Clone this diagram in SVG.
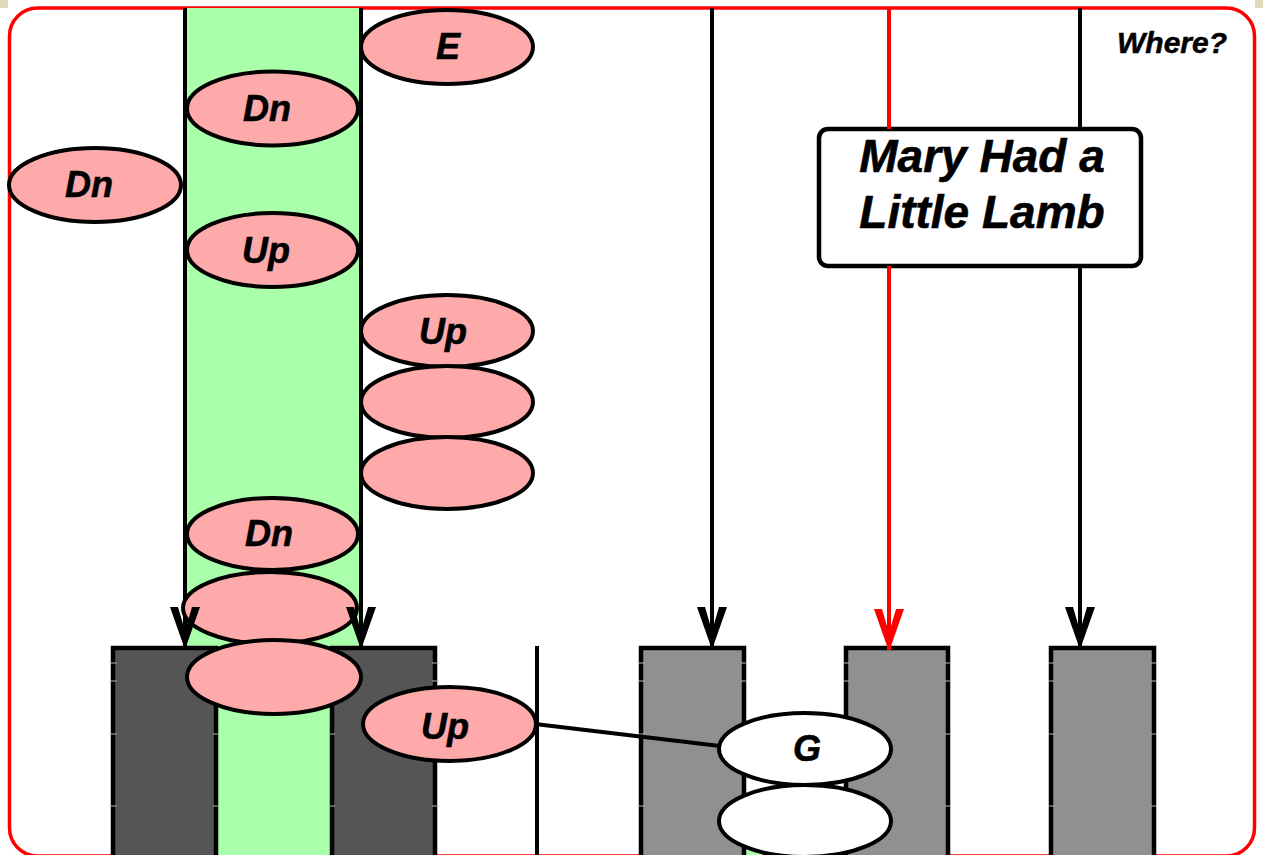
<svg xmlns="http://www.w3.org/2000/svg" width="1263" height="855" viewBox="0 0 1263 855">
<style>
.lbl{font-family:"Liberation Sans",Arial,sans-serif;font-weight:bold;font-style:italic;font-size:36px;fill:#000;stroke:#000;stroke-width:0.6;text-anchor:middle}
.pk{fill:#ffaaaa;stroke:#000;stroke-width:4}
.wh{fill:#fff;stroke:#000;stroke-width:4}
.dk{fill:#555555;stroke:#000;stroke-width:4.5}
.gr{fill:#909090;stroke:#000;stroke-width:4.5}
.ln{stroke:#000;stroke-width:4;fill:none}
.rd{stroke:#ff0000;stroke-width:4;fill:none}
.ah{fill:#000}
.ahr{fill:#ff0000}
.tk{stroke:#b8b8b8;stroke-width:1}
.tg{stroke:#dfffdf;stroke-width:1}
</style>
<rect x="0" y="0" width="1263" height="855" fill="#fff"/>
<rect x="0" y="0" width="8" height="8" fill="#ddd9bb"/>
<rect x="1255" y="0" width="8" height="8" fill="#ddd9bb"/>
<rect id="frame" x="9.5" y="8" width="1245" height="848" rx="28" ry="28" fill="#fff" stroke="#ff0000" stroke-width="3.5"/>

<g id="column">
  <rect x="185" y="8" width="176" height="640" fill="#aaffaa"/>
  <rect x="216" y="648" width="116" height="207" fill="#aaffaa"/>
  <rect x="744" y="842" width="18" height="13" fill="#aaffaa"/>
</g>

<g id="blocks">
  <rect id="dark1" class="dk" x="113" y="648" width="103" height="212"/>
  <rect id="dark2" class="dk" x="332" y="648" width="103" height="212"/>
  <rect id="gray1" class="gr" x="641" y="648" width="103" height="212"/>
  <rect id="gray2" class="gr" x="846" y="648" width="102" height="212"/>
  <rect id="gray3" class="gr" x="1051" y="648" width="103" height="212"/>
  <line class="ln" x1="537" y1="646" x2="537" y2="855"/>
</g>

<g id="ticks">
  <path class="tg" d="M182 131h7M358 131h6M182 273h7M358 273h6M182 326h7M358 326h6M182 344h7M358 344h6M182 397h7M358 397h6M182 468h7M358 468h6"/>
  <path class="tk" d="M110 663h7M213 663h6M329 663h6M432 663h7M638 663h7M741 663h6M843 663h6M945 663h6M1048 663h6M1151 663h6
  M110 681h7M213 681h6M329 681h6M432 681h7M638 681h7M741 681h6M843 681h6M945 681h6M1048 681h6M1151 681h6
  M110 734h7M213 734h6M329 734h6M432 734h7M638 734h7M741 734h6M843 734h6M945 734h6M1048 734h6M1151 734h6
  M110 806h7M213 806h6M329 806h6M432 806h7M638 806h7M741 806h6M843 806h6M945 806h6M1048 806h6M1151 806h6"/>
</g>

<g id="title">
  <rect x="819" y="129" width="322" height="137" rx="9" ry="9" fill="#fff" stroke="#000" stroke-width="4.5"/>
</g>

<g id="connectors">
  <line class="ln" x1="185" y1="8" x2="185" y2="648"/>
  <line class="ln" x1="361" y1="8" x2="361" y2="648"/>
  <line class="ln" x1="712" y1="8" x2="712" y2="648"/>
  <line class="rd" x1="889" y1="8" x2="889" y2="129"/>
  <line class="rd" x1="889" y1="266" x2="889" y2="650"/>
  <line class="ln" x1="1080" y1="8" x2="1080" y2="129"/>
  <line class="ln" x1="1080" y1="266" x2="1080" y2="648"/>
  <line class="ln" x1="535" y1="724" x2="720" y2="746"/>
</g>

<g id="nE"><ellipse class="pk" cx="447" cy="47" rx="86" ry="37"/><text class="lbl" x="448" y="59">E</text></g>
<g id="nDn1"><ellipse class="pk" cx="272.5" cy="108.5" rx="85.5" ry="37"/><text class="lbl" x="267" y="121">Dn</text></g>
<g id="nDn2"><ellipse class="pk" cx="95" cy="185" rx="86" ry="37"/><text class="lbl" x="89" y="197">Dn</text></g>
<g id="nUp1"><ellipse class="pk" cx="272.5" cy="250" rx="85.5" ry="37"/><text class="lbl" x="266" y="263">Up</text></g>
<g id="nUp2"><ellipse class="pk" cx="447" cy="331" rx="86" ry="36"/><text class="lbl" x="443" y="344">Up</text></g>
<g id="nB1"><ellipse class="pk" cx="447" cy="402" rx="86" ry="36"/></g>
<g id="nB2"><ellipse class="pk" cx="447" cy="473" rx="86" ry="36"/></g>
<g id="nDn3"><ellipse class="pk" cx="272.5" cy="534" rx="85.5" ry="36"/><text class="lbl" x="269" y="546">Dn</text></g>
<g id="nB3"><ellipse class="pk" cx="270" cy="608" rx="87" ry="36"/></g>
<g id="nB4"><ellipse class="pk" cx="274" cy="677" rx="87" ry="37"/></g>
<g id="nUp3"><ellipse class="pk" cx="449.5" cy="724" rx="86.5" ry="37"/><text class="lbl" x="445" y="739">Up</text></g>
<g id="nG"><ellipse class="wh" cx="805" cy="749" rx="86" ry="36"/><text class="lbl" x="807" y="761">G</text></g>
<g id="nW"><ellipse class="wh" cx="805" cy="821" rx="86" ry="36"/></g>

<g id="arrowheads">
  <polygon class="ah" points="170,607 178,607 185,631 192,607 200,607 187,644 183,644"/>
  <polygon class="ah" points="346,607 354,607 361,631 368,607 376,607 363,644 359,644"/>
  <polygon class="ah" points="697,607 705,607 712,631 719,607 727,607 714,644 710,644"/>
  <polygon class="ahr" points="874,609 882,609 889,633 896,609 904,609 891,646 887,646"/>
  <polygon class="ah" points="1065,607 1073,607 1080,631 1087,607 1095,607 1082,644 1078,644"/>
</g>

<g id="titletext">
  <text class="lbl" style="font-size:46px" x="982" y="172">Mary Had a</text>
  <text class="lbl" style="font-size:46px" x="982" y="228">Little Lamb</text>
</g>
<g id="where"><text class="lbl" style="font-size:30px;text-anchor:end;stroke-width:0.5" x="1227" y="53">Where?</text></g>
</svg>
